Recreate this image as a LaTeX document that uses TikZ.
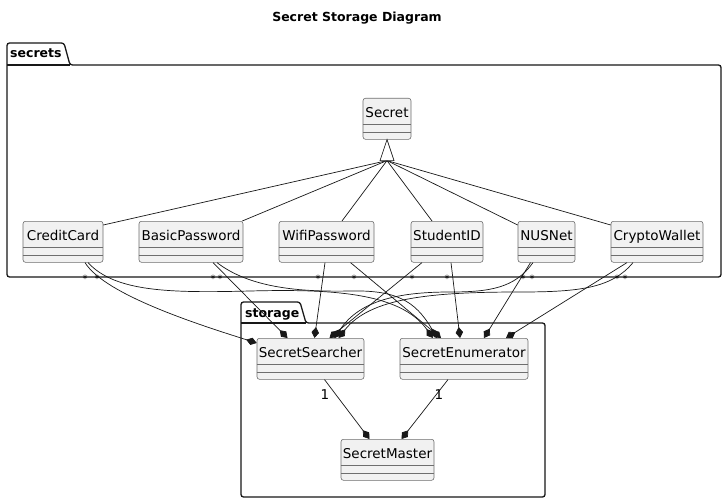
\documentclass[tikz,border=0pt]{standalone}
\usepackage{fontspec}
\setmainfont{DejaVu Sans}
\usetikzlibrary{arrows.meta}

\definecolor{umlline}{HTML}{181818}
\definecolor{umlborder}{HTML}{6E6E6E}
\definecolor{umlfill}{HTML}{F1F1F1}

\tikzset{
  cls/.style={draw=umlborder, fill=umlfill, line width=0.6pt, rounded corners=2.5pt,
    minimum height=41pt, inner xsep=0pt, inner ysep=0pt, text height=10pt, text depth=13pt,
    anchor=north, font=\fontsize{13.5}{15}\selectfont},
  pkg/.style={draw=umlline, line width=1.3pt, rounded corners=2.5pt},
  pkglabel/.style={font=\bfseries\fontsize{12.5}{14}\selectfont, anchor=base west, inner sep=0pt},
  comp/.style={draw=umlline, line width=0.7pt, -{Diamond[length=11pt,width=7.5pt]}},
  inh/.style={draw=umlline, line width=0.7pt},
  mult/.style={font=\fontsize{10}{12}\selectfont, inner sep=0pt, anchor=base},
}

\begin{document}
\begin{tikzpicture}[x=1pt, y=-1pt]
        \fill[white] (0,0) rectangle (726,503);
        \useasboundingbox (0,0) rectangle (726,503);
        \node[font=\bfseries\fontsize{12.5}{14}\selectfont] (title) at (357,18) {Secret Storage Diagram};

        % packages
        \draw[pkg] (7,277) -- (7,43) -- (64,43) -- (70,65) -- (721,65) -- (721,277) -- cycle;
        \draw[pkg] (7,65) -- (70,65);
        \node[pkglabel] (secrets) at (10,58) {secrets};
        \draw[pkg] (241,497) -- (241,302) -- (300,302) -- (306,323) -- (545,323) -- (545,497) -- cycle;
        \draw[pkg] (241,323) -- (306,323);
        \node[pkglabel] (storage) at (245,317) {storage};

        % classes
        \node[cls, minimum width=48pt] (sec) at (387,98) {Secret};
        \node[cls, minimum width=80pt] (cc) at (63,221) {CreditCard};
        \node[cls, minimum width=104pt] (bp) at (191,221) {BasicPassword};
        \node[cls, minimum width=95pt] (wp) at (326.5,221) {WifiPassword};
        \node[cls, minimum width=72pt] (sid) at (447,221) {StudentID};
        \node[cls, minimum width=57pt] (nus) at (546.5,221) {NUSNet};
        \node[cls, minimum width=92pt] (cw) at (657,221) {CryptoWallet};
        \node[cls, minimum width=107pt] (ss) at (310.5,338) {SecretSearcher};
        \node[cls, minimum width=128pt] (se) at (464,338) {SecretEnumerator};
        \node[cls, minimum width=93pt] (sm) at (387.5,439) {SecretMaster};
        \foreach \c in {sec,cc,bp,wp,sid,nus,cw,ss,se,sm}{
          \draw[umlborder, line width=0.6pt] ([yshift=-26pt]\c.north west) -- ([yshift=-26pt]\c.north east)
            ([yshift=-34pt]\c.north west) -- ([yshift=-34pt]\c.north east);
        }

        % inheritance
        \coordinate (tri) at ([yshift=-21pt]sec.south);
        \draw[inh] (tri) -- ([yshift=-4pt]cc.north east);
        \draw[inh] (tri) -- ([xshift=-1pt]bp.north east);
        \draw[inh] (tri) -- ([xshift=15.5pt]wp.north);
        \draw[inh] (tri) -- ([xshift=-15pt]sid.north);
        \draw[inh] (tri) -- ([yshift=-4pt]nus.north west);
        \draw[inh] (tri) -- ([yshift=-4pt]cw.north west);
        \draw[inh, fill=white] (sec.south) -- ++(-7,21) -- ++(14,0) -- cycle;

        % composition into SecretSearcher
        \draw[comp] ([xshift=22pt]cc.south) .. controls (105,295) and (200,325) .. ([yshift=-5pt]ss.north west);
        \draw[comp] ([xshift=22pt]bp.south) -- ([xshift=-23pt]ss.north);
        \draw[comp] ([xshift=-1.5pt]wp.south) -- ([xshift=4pt]ss.north);
        \draw[comp] ([xshift=-25pt]sid.south) -- ([xshift=19pt]ss.north);
        \draw[comp] ([xshift=-13.5pt]nus.south) .. controls (515,288) and (490,292) .. (450,292) .. controls (400,292) and (360,300) .. ([xshift=24pt]ss.north);
        \draw[comp] ([xshift=-24pt]cw.south) .. controls (612,288) and (580,292) .. (520,292) .. controls (430,292) and (370,298) .. ([xshift=28pt]ss.north);

        % composition into SecretEnumerator
        \draw[comp] ([xshift=25pt]cc.south) .. controls (115,292) and (170,293) .. (250,291) .. controls (330,289) and (400,292) .. ([xshift=-31pt]se.north);
        \draw[comp] ([xshift=26pt]bp.south) .. controls (250,288) and (300,292) .. (350,291) .. controls (395,290) and (415,300) .. ([xshift=-27pt]se.north);
        \draw[comp] ([xshift=24pt]wp.south) -- ([xshift=-23pt]se.north);
        \draw[comp] ([xshift=4pt]sid.south) -- ([xshift=-4pt]se.north);
        \draw[comp] ([xshift=-16pt]nus.south) -- ([xshift=20pt]se.north);
        \draw[comp] ([xshift=-30pt]cw.south) -- ([xshift=42pt]se.north);

        % into SecretMaster
        \draw[comp] ([xshift=14pt]ss.south) -- ([xshift=-18pt]sm.north);
        \draw[comp] ([xshift=-16pt]se.south) -- ([xshift=14pt]sm.north);

        % multiplicities
        \foreach \x [count=\i] in {85,97,213,220,318,354,412,447,523,532,617,625}
          \node[mult] (m\i) at (\x,282) {*};
        \node[font=\fontsize{13.5}{15}\selectfont, inner sep=0pt] (one1) at (325,395) {1};
        \node[font=\fontsize{13.5}{15}\selectfont, inner sep=0pt] (one2) at (439,395) {1};
\end{tikzpicture}
\end{document}
